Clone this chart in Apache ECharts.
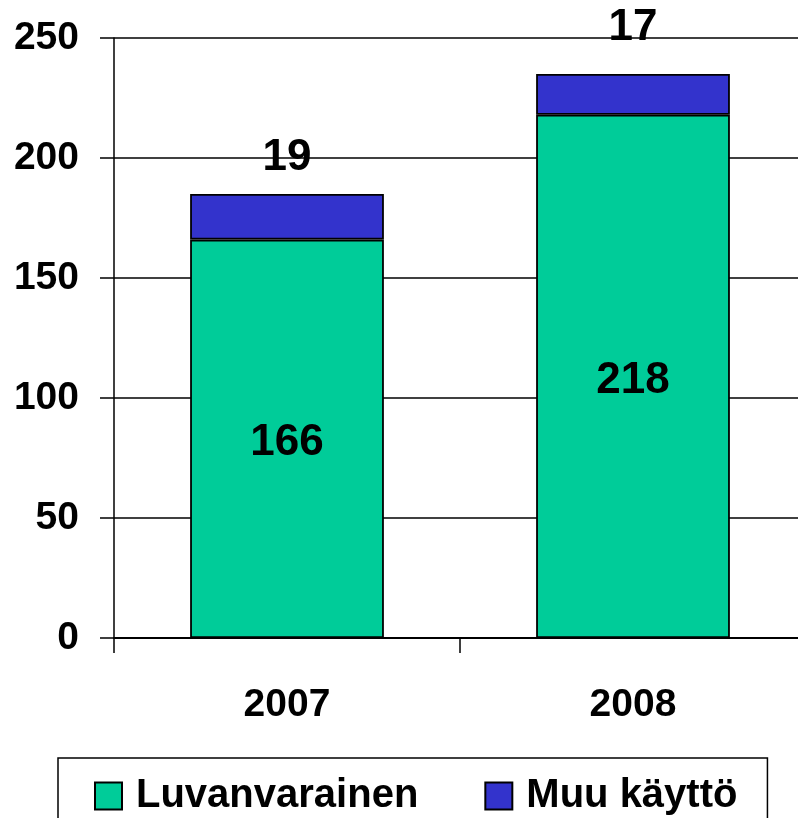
<!DOCTYPE html>
<html>
<head>
<meta charset="utf-8">
<script src="https://cdn.jsdelivr.net/npm/echarts@6/dist/echarts.min.js"></script>
<style>
  html, body { margin: 0; padding: 0; background: #fff; }
  #chart { width: 798px; height: 818px; }
</style>
</head>
<body>
<div id="chart"></div>
<script>
// data
const years = ['2007', '2008']
const luvanvarainen = [166, 218]
const muuKaytto = [19, 17]
const topLabelGap = [14, 24]   // how far the small number sits above the bar

const font = '"Liberation Sans", Arial, sans-serif'

const chart = echarts.init(document.getElementById('chart'))

chart.setOption({
  animation: false,
  // plot runs a little past the right edge of the window, like the original
  grid: { left: 114, width: 692, top: 38, bottom: 180, outerBoundsMode: 'none' },
  legend: {
    left: 58,
    top: 758,
    padding: [18, 30, 22, 36],
    itemGap: 66,
    itemWidth: 27,
    itemHeight: 27,
    icon: 'rect',
    borderColor: '#000',
    borderWidth: 1.5,
    textStyle: { fontFamily: font, fontWeight: 'bold', fontSize: 40, color: '#000', padding: [0, 0, 0, 9] },
    data: ['Luvanvarainen', 'Muu käyttö']
  },
  xAxis: {
    type: 'category',
    data: years,
    axisLine: { lineStyle: { color: '#000', width: 2 } },
    axisTick: { show: true, length: 15, lineStyle: { color: '#000', width: 1.5 } },
    axisLabel: { margin: 48, fontFamily: font, fontWeight: 'bold', fontSize: 39, color: '#000' }
  },
  yAxis: {
    type: 'value',
    min: 0,
    max: 250,
    interval: 50,
    axisLine: { show: true, lineStyle: { color: '#000', width: 1.5 } },
    axisTick: { show: true, length: 14, lineStyle: { color: '#000', width: 1.5 } },
    splitLine: { lineStyle: { color: '#000', width: 1.5 } },
    axisLabel: { margin: 35, fontFamily: font, fontWeight: 'bold', fontSize: 39, color: '#000' }
  },
  series: [
    {
      name: 'Luvanvarainen',
      type: 'bar',
      stack: 'total',
      barWidth: '56%',
      data: luvanvarainen,
      itemStyle: { color: '#00CC99', borderColor: '#000', borderWidth: 1.8 },
      label: { show: true, position: 'inside', offset: [0, 4], fontFamily: font, fontWeight: 'bold', fontSize: 44, color: '#000' }
    },
    {
      name: 'Muu käyttö',
      type: 'bar',
      stack: 'total',
      barWidth: '56%',
      data: muuKaytto.map((v, i) => ({ value: v, label: { distance: topLabelGap[i] } })),
      itemStyle: { color: '#3333CC', borderColor: '#000', borderWidth: 1.8 },
      label: { show: true, position: 'top', fontFamily: font, fontWeight: 'bold', fontSize: 44, color: '#000' }
    }
  ]
})
</script>
</body>
</html>
